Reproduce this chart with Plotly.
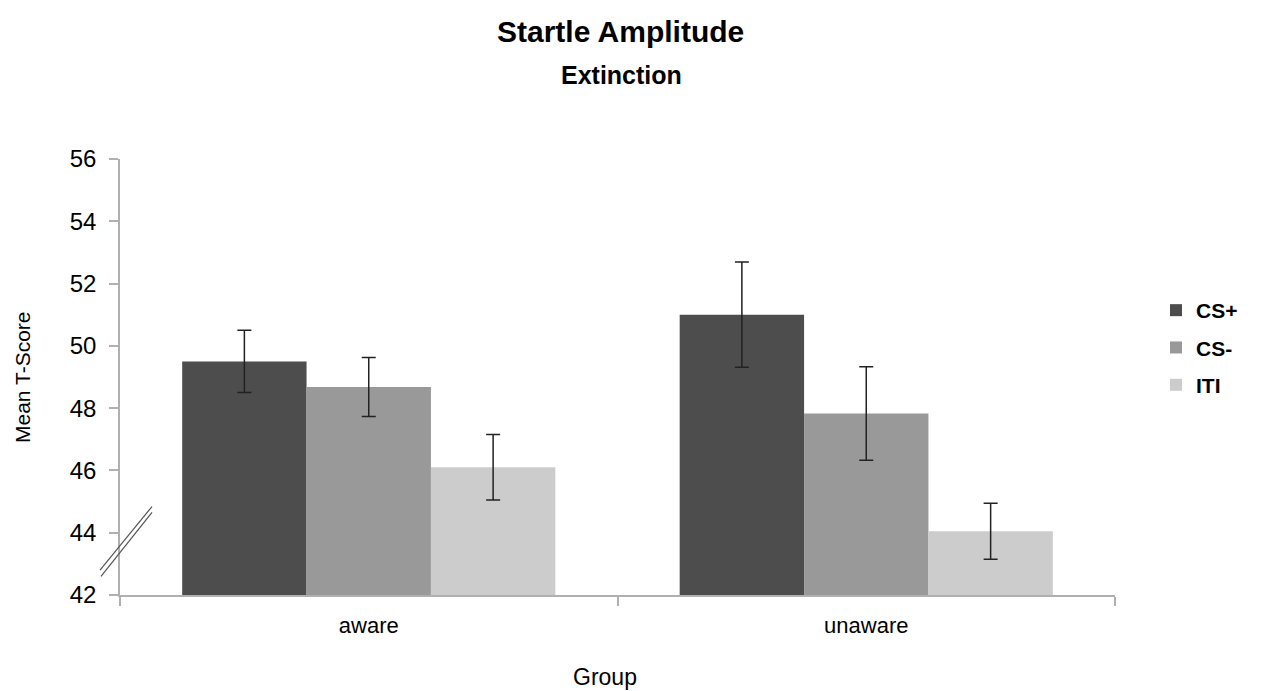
import plotly.graph_objects as go

groups = ["aware", "unaware"]
series = ["CS+", "CS-", "ITI"]
means = {
    "CS+": [49.5, 51.0],
    "CS-": [48.68, 47.83],
    "ITI": [46.1, 44.05],
}
errors = {
    "CS+": [1.0, 1.69],
    "CS-": [0.95, 1.5],
    "ITI": [1.05, 0.9],
}
colors = {"CS+": "#4d4d4d", "CS-": "#999999", "ITI": "#cccccc"}
y_ticks = [42, 44, 46, 48, 50, 52, 54, 56]

FONT = "Liberation Sans, Arial, sans-serif"
OFF = 8  # page body margin in the browser
W, H = 1262 - OFF, 691 - OFF
# reference pixel positions of the plot area
RL, RR, RT, RB = 120, 1115, 159, 595
ML, MT = RL - OFF, RT - OFF
MR = W - (RR - OFF)
MB = H - (RB - OFF)
PW, PH = RR - RL, RB - RT


def px_x(px):
    return (px - RL) / PW


def px_y(py):
    return (RB - py) / PH


fig = go.Figure()
for s in series:
    fig.add_trace(go.Bar(
        name="<b>" + s + "</b>", x=groups, y=means[s],
        marker=dict(color=colors[s], line=dict(width=0)),
        error_y=dict(type="data", array=errors[s], visible=True,
                     color="#222222", thickness=1.5, width=7),
        legendgroup=s,
    ))

# axis break marks (decorative)
for (x0, y0, x1, y1) in [(100, 42.8, 152, 44.84), (101, 42.6, 152, 44.65)]:
    fig.add_shape(type="line", xref="paper", yref="y",
                  x0=px_x(x0), y0=y0, x1=px_x(x1), y1=y1,
                  line=dict(color="#555555", width=1.2))

annotations = [
    dict(text="<b>Startle Amplitude</b>", x=px_x(620), y=px_y(31), xref="paper", yref="paper",
         xanchor="center", yanchor="middle", showarrow=False,
         font=dict(size=30, family=FONT, color="#000")),
    dict(text="<b>Extinction</b>", x=px_x(621), y=px_y(75), xref="paper", yref="paper",
         xanchor="center", yanchor="middle", showarrow=False,
         font=dict(size=25, family=FONT, color="#000")),
    dict(text="Mean T-Score", x=px_x(22), y=px_y(377), xref="paper", yref="paper",
         xanchor="center", yanchor="middle", showarrow=False, textangle=-90,
         font=dict(size=21, family=FONT, color="#000")),
    dict(text="Group", x=px_x(605), y=px_y(677), xref="paper", yref="paper",
         xanchor="center", yanchor="middle", showarrow=False,
         font=dict(size=23, family=FONT, color="#000")),
]

fig.update_layout(
    width=W, height=H,
    paper_bgcolor="white", plot_bgcolor="white",
    margin=dict(l=ML, r=MR, t=MT, b=MB, autoexpand=False),
    barmode="group", bargap=0.25, bargroupgap=0,
    font=dict(family=FONT, color="#000000"),
    annotations=annotations,
    legend=dict(
        x=px_x(1156), y=px_y(290), xanchor="left", yanchor="top",
        font=dict(size=21, family=FONT, color="#000"),
        itemwidth=30, tracegroupgap=7,
        bgcolor="rgba(0,0,0,0)",
    ),
    yaxis=dict(
        range=[42, 56], tickvals=y_ticks, ticktext=[str(v) for v in y_ticks],
        showgrid=False, zeroline=False, automargin=False,
        showline=True, linecolor="#b0b0b0", linewidth=1.5,
        ticks="outside", ticklen=9, tickcolor="#b0b0b0", tickwidth=1.5,
        ticklabelstandoff=8,
        tickfont=dict(size=24, family=FONT),
    ),
    xaxis=dict(
        showgrid=False, zeroline=False, automargin=False,
        showline=True, linecolor="#b0b0b0", linewidth=1.5,
        ticks="outside", ticklen=9, tickcolor="#b0b0b0", tickwidth=1.5,
        tickson="boundaries", ticklabelstandoff=10,
        tickfont=dict(size=22, family=FONT),
    ),
)

fig.write_html("out.html")
